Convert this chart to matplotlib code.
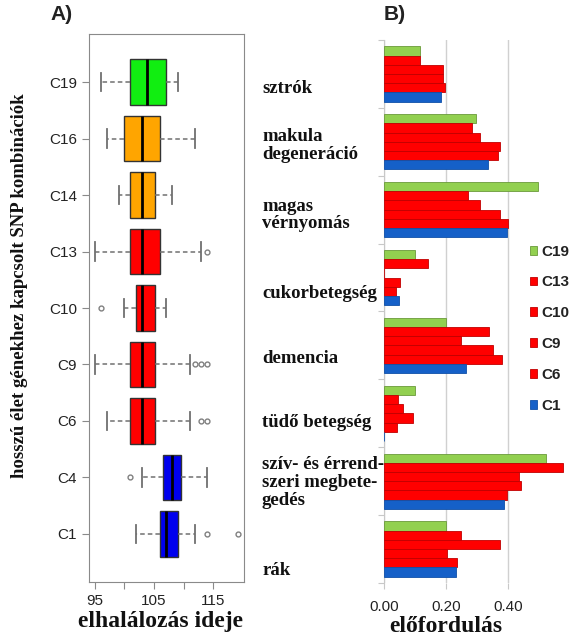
import matplotlib
matplotlib.use('Agg')
import matplotlib.pyplot as plt
import matplotlib.transforms as mtransforms

# A) panel: elhalálozás ideje, kombinációk felülről lefelé
kombinaciok = ['C19', 'C16', 'C14', 'C13', 'C10', 'C9', 'C6', 'C4', 'C1']
also_bajusz = [96, 97, 99, 95, 100, 95, 97, 103, 102]
also_kvartilis = [101, 100, 101, 101, 102, 101, 101, 106.5, 106]
median = [103.8, 103, 103, 103, 102.9, 103, 103, 108.1, 107.1]
felso_kvartilis = [107.1, 106, 105.1, 106, 105.1, 105.1, 105.1, 109.6, 109.1]
felso_bajusz = [109, 112, 108, 113, 107, 111, 111, 114, 112]
kiugro = [[], [], [], [114], [96], [112, 113, 114], [113, 114], [101], [114, 119.2]]
doboz_szinek = ['#11ee11', '#ffa500', '#ffa500', '#ff0000', '#ff0000',
                '#ff0000', '#ff0000', '#0000ee', '#0000ee']

# B) panel: előfordulás betegségenként
betegsegek = ['sztrók', 'makula\ndegeneráció', 'magas\nvérnyomás', 'cukorbetegség',
              'demencia', 'tüdő betegség', 'szív- és érrend-\nszeri megbete-\ngedés', 'rák']
sorozatok = ['C19', 'C13', 'C10', 'C9', 'C6', 'C1']
elofordulas = {
    'C19': [0.115, 0.298, 0.499, 0.100, 0.200, 0.100, 0.524, 0.200],
    'C13': [0.115, 0.283, 0.272, 0.141, 0.339, 0.045, 0.580, 0.250],
    'C10': [0.190, 0.310, 0.310, 0.000, 0.250, 0.061, 0.435, 0.374],
    'C9':  [0.191, 0.374, 0.374, 0.053, 0.353, 0.095, 0.444, 0.205],
    'C6':  [0.197, 0.368, 0.400, 0.040, 0.382, 0.042, 0.396, 0.237],
    'C1':  [0.185, 0.336, 0.398, 0.048, 0.266, 0.000, 0.389, 0.234],
}
sor_szinek = {'C19': '#92d050', 'C13': '#ff0000', 'C10': '#ff0000',
              'C9': '#ff0000', 'C6': '#ff0000', 'C1': '#1560c8'}
sor_keretek = {'C19': '#6a9a3a', 'C13': '#c00000', 'C10': '#c00000',
               'C9': '#c00000', 'C6': '#c00000', 'C1': '#1050a8'}

SANS = 'Liberation Sans'
SERIF = 'Liberation Serif'


def boxplot_panel(fig):
    """A) panel: vízszintes dobozábra"""
    ax = fig.add_axes([89 / 582, 1 - 582 / 639, 155 / 582, 548 / 639])
    poz = list(range(len(kombinaciok), 0, -1))
    stats = []
    for i, nev in enumerate(kombinaciok):
        stats.append({'label': nev, 'whislo': also_bajusz[i], 'q1': also_kvartilis[i],
                      'med': median[i], 'q3': felso_kvartilis[i],
                      'whishi': felso_bajusz[i], 'fliers': kiugro[i]})
    elemek = ax.bxp(stats, positions=poz, widths=0.8, capwidths=0.33,
                    orientation='horizontal', patch_artist=True,
                    boxprops=dict(edgecolor='#333333', linewidth=1.0),
                    medianprops=dict(color='black', linewidth=2.0),
                    whiskerprops=dict(color='#707070', linewidth=1.1, linestyle=(0, (3, 2))),
                    capprops=dict(color='#707070', linewidth=1.3),
                    flierprops=dict(marker='o', markersize=3.5, markerfacecolor='none',
                                    markeredgecolor='#808080', markeredgewidth=1.0))
    for doboz, szin in zip(elemek['boxes'], doboz_szinek):
        doboz.set_facecolor(szin)

    ax.set_xlim(94, 120.2)
    ax.set_ylim(0.15, 9.85)
    ax.set_xticks([95, 100, 105, 110, 115])
    ax.set_xticklabels(['95', '', '105', '', '115'])
    ax.set_yticks(poz)
    ax.set_yticklabels(kombinaciok)
    for s in ax.spines.values():
        s.set_color('#8a8a8a')
    ax.tick_params(axis='both', colors='#8a8a8a', labelcolor='#222222',
                   length=5, labelsize=11)
    for t in ax.get_xticklabels() + ax.get_yticklabels():
        t.set_fontfamily(SANS)
    ax.set_xlabel('elhalálozás ideje', fontfamily=SERIF, fontweight='bold',
                  fontsize=17, color='#111111')
    ax.xaxis.set_label_coords((161 - 89) / 155, -29 / 548)
    fig.text(20 / 582, 1 - 286 / 639, 'hosszú élet génekhez kapcsolt SNP kombinációk',
             rotation=90, ha='center', va='center', fontfamily=SERIF,
             fontweight='bold', fontsize=13.5, color='#111111')
    fig.text(50 / 582, 1 - 15 / 639, 'A)', fontfamily=SANS, fontweight='bold',
             fontsize=15, ha='left', va='center', color='#222222')


def bar_panel(fig):
    """B) panel: csoportosított vízszintes oszlopok"""
    ax = fig.add_axes([384 / 582, 1 - 583 / 639, 181 / 582, 543 / 639])
    n = len(betegsegek)
    h = 0.1355
    for j, nev in enumerate(sorozatok):
        y = [i + (j - 2.5) * h for i in range(n)]
        ax.barh(y, elofordulas[nev], height=h, color=sor_szinek[nev],
                edgecolor=sor_keretek[nev], linewidth=0.6, label=nev, zorder=3)

    ax.set_ylim(n - 0.5, -0.5)
    ax.set_xlim(0, 0.585)
    ax.set_yticks([i - 0.5 for i in range(n + 1)])
    ax.set_yticklabels([])
    ax.set_xticks([0, 0.2, 0.4])
    ax.set_xticklabels(['0.00', '0.20', '0.40'])
    ax.grid(axis='x', color='#d0d0d0', linewidth=1.0, zorder=0)
    for nev in ['top', 'right', 'bottom']:
        ax.spines[nev].set_visible(False)
    ax.spines['left'].set_color('#c8c8c8')
    ax.tick_params(axis='both', colors='#c8c8c8', labelcolor='#222222',
                   length=4, labelsize=11, pad=8)
    for t in ax.get_xticklabels():
        t.set_fontfamily(SANS)

    # betegségnevek a két panel között
    eltolas = [0.21, 0.05, 0.08, 0.23, 0.19, 0.13, 0.02, 0.31]
    trans = mtransforms.blended_transform_factory(fig.transFigure, ax.transData)
    for i, nev in enumerate(betegsegek):
        ax.text(262 / 582, i + eltolas[i], nev, transform=trans, ha='left',
                va='center', fontfamily=SERIF, fontweight='bold', fontsize=13.5,
                linespacing=1.05, color='#111111')

    ax.set_xlabel('előfordulás', fontfamily=SERIF, fontweight='bold',
                  fontsize=17, color='#111111')
    ax.xaxis.set_label_coords((446 - 384) / 181, -33 / 543)

    leg = ax.legend(loc='upper left', bbox_to_anchor=(522 / 582, 1 - 237 / 639),
                    bbox_transform=fig.transFigure, frameon=False, borderpad=0,
                    handlelength=0.5, handleheight=0.5, handletextpad=0.3,
                    labelspacing=1.1, prop={'family': SANS, 'weight': 'bold', 'size': 11})
    for t in leg.get_texts():
        t.set_color('#222222')
    fig.text(384 / 582, 1 - 15 / 639, 'B)', fontfamily=SANS, fontweight='bold',
             fontsize=15, ha='left', va='center', color='#222222')


def main():
    fig = plt.figure(figsize=(5.82, 6.39), dpi=100)
    fig.patch.set_facecolor('white')
    boxplot_panel(fig)
    bar_panel(fig)
    fig.savefig('out.png', dpi=100, facecolor='white')


if __name__ == "__main__":
    main()
